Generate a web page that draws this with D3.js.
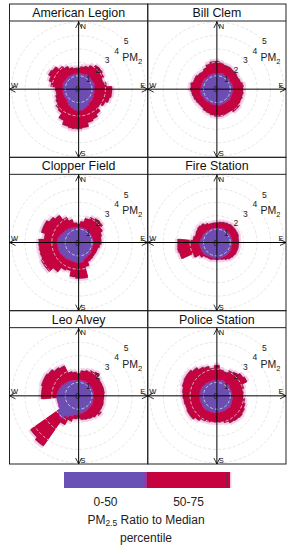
<!DOCTYPE html>
<html>
<head>
<meta charset="utf-8">
<script src="https://cdn.jsdelivr.net/npm/d3@7"></script>
<style>
  body { margin: 0; background: #fff; }
  svg { display: block; font-family: "Liberation Sans", Arial, sans-serif; }
</style>
</head>
<body>
<div id="chart"></div>
<script>
// site names, in panel order (row by row)
const sites = ["American Legion", "Bill Clem", "Clopper Field", "Fire Station", "Leo Alvey", "Police Station"];

// wind direction sectors, 10 degrees each
const directions = [0, 10, 20, 30, 40, 50, 60, 70, 80, 90, 100, 110, 120, 130, 140, 150, 160, 170,
                    180, 190, 200, 210, 220, 230, 240, 250, 260, 270, 280, 290, 300, 310, 320, 330, 340, 350];

// PM2.5 ratio to median, 50th and 75th percentile per sector
const americanLegion50 = [1.1,1.1,1.1,1.15,1.1,1.1,1.1,1.15,1.1,1.1,1.1,1.1,1.15,1.2,1.2,1.3,1.4,1.5,1.5,1.5,1.4,1.3,1.2,1.1,1.1,1.1,1.1,1.1,1.1,1.15,1.1,1.1,1.1,1.1,1.1,1.1];
const americanLegion75 = [1.6,1.7,1.8,2.0,2.2,2.2,2.1,1.9,2.1,2.5,2.5,2.4,2.2,2.0,2.3,2.5,2.6,2.9,3.0,3.0,2.9,2.6,2.2,2.1,1.9,1.8,1.7,1.75,2.1,2.3,2.5,2.4,2.1,1.9,1.7,1.6];

const billClem50 = [1.1,1.1,1.15,1.1,1.1,1.1,1.05,1.1,1.1,1.15,1.1,1.1,1.1,1.15,1.1,1.1,1.1,1.15,1.1,1.1,1.1,1.05,1.1,1.1,1.1,1.15,1.15,1.15,1.1,1.1,1.1,1.1,1.05,1.1,1.1,1.1];
const billClem75 = [2.1,2.0,1.9,1.9,1.85,1.85,1.8,1.85,2.0,2.0,2.0,2.0,2.0,2.1,2.1,1.95,2.0,2.05,2.05,2.0,1.9,1.85,1.75,1.75,1.8,1.85,1.9,2.0,2.0,1.85,1.85,1.75,1.7,1.8,2.0,2.1];

const clopperField50 = [1.05,1.05,1.05,1.05,1.05,1.0,1.0,1.0,1.0,1.0,1.0,1.0,1.0,1.1,1.1,1.15,1.2,1.4,1.45,1.4,1.4,1.4,1.45,1.45,1.5,1.5,1.5,1.5,1.5,1.4,1.3,1.25,1.2,1.15,1.1,1.05];
const clopperField75 = [1.4,1.6,1.9,2.1,2.2,2.2,2.0,1.8,1.7,1.7,1.6,1.5,1.5,1.5,1.55,1.6,1.9,2.7,2.7,2.6,2.2,2.3,2.7,3.1,3.1,3.0,3.0,3.0,2.6,2.9,2.9,2.7,2.5,2.1,1.8,1.5];

const fireStation50 = [1.0,1.0,1.05,1.05,1.05,1.05,1.05,1.05,1.05,1.05,1.05,1.05,1.1,1.1,1.1,1.1,1.1,1.1,1.1,1.1,1.1,1.1,1.15,1.2,1.2,1.2,1.2,1.2,1.15,1.1,1.1,1.05,1.05,1.0,1.0,1.0];
const fireStation75 = [1.5,1.55,1.6,1.65,1.7,1.7,1.7,1.7,1.65,1.65,1.65,1.65,1.65,1.6,1.55,1.45,1.35,1.3,1.3,1.3,1.35,1.35,1.4,1.6,2.0,2.9,3.0,2.95,1.8,1.7,1.75,1.8,1.75,1.6,1.5,1.5];

const leoAlvey50 = [1.1,1.1,1.1,1.1,1.05,1.05,1.05,1.05,1.05,1.05,1.05,1.05,1.1,1.1,1.1,1.15,1.2,1.25,1.3,1.35,1.5,1.7,2.0,1.9,1.6,1.55,1.55,1.55,1.5,1.45,1.4,1.3,1.25,1.2,1.15,1.1];
const leoAlvey75 = [1.7,1.9,2.0,2.1,2.2,2.0,1.95,1.95,1.95,1.9,1.9,1.95,1.95,2.1,2.0,1.9,1.85,1.8,1.7,1.75,2.0,2.4,4.6,4.4,1.6,1.6,1.6,2.8,2.8,2.9,2.9,2.8,2.6,2.5,1.9,1.8];

const policeStation50 = [1.1,1.1,1.15,1.1,1.1,1.1,1.05,1.05,1.05,1.05,1.1,1.1,1.15,1.2,1.15,1.15,1.15,1.15,1.15,1.2,1.2,1.2,1.25,1.25,1.2,1.2,1.2,1.2,1.2,1.2,1.2,1.15,1.15,1.1,1.1,1.1];
const policeStation75 = [2.3,2.0,1.9,2.1,2.2,2.4,2.5,2.1,2.0,2.0,2.1,2.2,2.3,2.35,2.3,2.25,2.1,2.0,2.0,2.0,2.05,2.1,2.3,2.5,2.5,2.45,2.5,2.55,2.6,2.7,2.75,2.75,2.6,2.4,2.3,2.1];

const ringTicks = [1, 2, 3, 4, 5];
const legendBins = ["0-50", "50-75"];

(function() {
  const width = 294, height = 550;
  const box = { left: 9.5, right: 286, top: 4, bottom: 464 };
  const colW = (box.right - box.left) / 2,
        rowH = (box.bottom - box.top) / 3,
        titleH = 17;

  const purple = "#6a50b4", magenta = "#a8309c", crimson = "#c6023f",
        maroon = "#8e1a4c", halo = "#f9cdea";

  const p50 = [americanLegion50, billClem50, clopperField50, fireStation50, leoAlvey50, policeStation50];
  const p75 = [americanLegion75, billClem75, clopperField75, fireStation75, leoAlvey75, policeStation75];

  const svg = d3.select("#chart")
    .append("svg")
    .attr("width", width)
    .attr("height", height);

  const r = d3.scaleLinear().domain([0, 5]).range([0, 67]);
  const rad = Math.PI / 180;

  const arc = d3.arc()
    .innerRadius(0)
    .startAngle(d => (d.dir - 5) * rad)
    .endAngle(d => (d.dir + 5) * rad)
    .outerRadius(d => d.r);

  sites.forEach((name, i) => {
    const col = i % 2, row = Math.floor(i / 2);
    const x0 = box.left + col * colW, y0 = box.top + row * rowH;

    const panel = svg.append("g")
      .attr("transform", `translate(${x0},${y0})`);

    panel.append("rect")
      .attr("width", colW)
      .attr("height", rowH)
      .attr("fill", "none")
      .attr("stroke", "#222");

    panel.append("line")
      .attr("x1", 0).attr("x2", colW)
      .attr("y1", titleH).attr("y2", titleH)
      .attr("stroke", "#222");

    panel.append("text")
      .attr("x", colW / 2)
      .attr("y", 13)
      .attr("text-anchor", "middle")
      .attr("font-size", "12.4px")
      .attr("fill", "#111")
      .text(name);

    const cx = colW / 2, cy = titleH + (rowH - titleH) / 2;
    const g = panel.append("g")
      .attr("transform", `translate(${cx},${cy})`);

    const s50 = directions.map((dir, j) => ({ dir, v: p50[i][j] }));
    const s75 = directions.map((dir, j) => ({ dir, v: p75[i][j] }));

    // pink glow round the outer band
    g.selectAll(".halo").data(s75).enter().append("path")
      .attr("d", d => arc({ dir: d.dir, r: r(d.v) + 2.5 }))
      .attr("fill", halo);

    // darker rim, then the 50-75 band over it
    g.selectAll(".rim").data(s75).enter().append("path")
      .attr("d", d => arc({ dir: d.dir, r: r(d.v) }))
      .attr("fill", maroon)
      .attr("stroke", maroon)
      .attr("stroke-width", 0.3);

    g.selectAll(".p75").data(s75).enter().append("path")
      .attr("d", d => arc({ dir: d.dir, r: r(d.v) - 1.2 }))
      .attr("fill", crimson)
      .attr("stroke", crimson)
      .attr("stroke-width", 0.4);

    g.selectAll(".edge").data(s50).enter().append("path")
      .attr("d", d => arc({ dir: d.dir, r: r(d.v) + 1.5 }))
      .attr("fill", magenta);

    g.selectAll(".p50").data(s50).enter().append("path")
      .attr("d", d => arc({ dir: d.dir, r: r(d.v) }))
      .attr("fill", purple)
      .attr("stroke", purple)
      .attr("stroke-width", 0.4);

    // dashed rings on top
    g.selectAll(".ring").data(ringTicks).enter().append("circle")
      .attr("r", d => r(d))
      .attr("fill", "none")
      .attr("stroke", "#dedede")
      .attr("stroke-width", 0.8)
      .attr("stroke-dasharray", "3,2");

    // axes across the whole panel
    g.append("line")
      .attr("x1", -cx).attr("x2", colW - cx)
      .attr("y1", 0).attr("y2", 0)
      .attr("stroke", "#000");
    g.append("line")
      .attr("x1", 0).attr("x2", 0)
      .attr("y1", titleH - cy).attr("y2", rowH - cy)
      .attr("stroke", "#000");

    const top = titleH - cy + 1, bot = rowH - cy, lft = -cx, rgt = colW - cx;
    const arrows = [
      `M-3,${top + 6}L0,${top}L3,${top + 6}`,
      `M-3,${bot - 6}L0,${bot}L3,${bot - 6}`,
      `M${rgt - 6},-3L${rgt},0L${rgt - 6},3`,
      `M${lft + 6},-3L${lft},0L${lft + 6},3`
    ];
    g.selectAll(".arrow").data(arrows).enter().append("path")
      .attr("d", d => d)
      .attr("fill", "none")
      .attr("stroke", "#000")
      .attr("stroke-width", 0.8);

    const compass = [
      { t: "N", x: 4.5, y: top + 6.5 },
      { t: "S", x: 4.5, y: bot - 1 },
      { t: "E", x: rgt - 5, y: -1.5 },
      { t: "W", x: lft + 5, y: -1.5 }
    ];
    g.selectAll(".compass").data(compass).enter().append("text")
      .attr("x", d => d.x)
      .attr("y", d => d.y)
      .attr("text-anchor", "middle")
      .attr("font-size", "7.5px")
      .attr("fill", "#111")
      .text(d => d.t);

    g.append("text")
      .attr("x", -1)
      .attr("y", 3)
      .attr("text-anchor", "middle")
      .attr("font-size", "8.5px")
      .attr("fill", "#222")
      .text("0");

    g.selectAll(".tick").data(ringTicks).enter().append("text")
      .attr("x", d => r(d) * Math.SQRT1_2)
      .attr("y", d => -r(d) * Math.SQRT1_2 - 0.5)
      .attr("dy", "0.35em")
      .attr("text-anchor", "middle")
      .attr("font-size", "8.5px")
      .attr("fill", "#222")
      .text(d => d);

    // the pollutant label gets cut off by the plot edge
    const clipId = "clip" + i;
    panel.append("clipPath")
      .attr("id", clipId)
      .append("rect")
      .attr("x", 0).attr("y", titleH)
      .attr("width", cx + 63.5)
      .attr("height", rowH - titleH);

    const pm = panel.append("text")
      .attr("clip-path", `url(#${clipId})`)
      .attr("x", cx + 43.5)
      .attr("y", cy - 28)
      .attr("font-size", "10.5px")
      .attr("fill", "#222");
    pm.append("tspan").text("PM");
    pm.append("tspan")
      .attr("dy", 3)
      .attr("font-size", "8px")
      .text("2.5");
  });

  // colour key
  const lx = d3.scaleBand().domain(legendBins).range([64, 230]);
  const key = svg.append("g").attr("transform", "translate(0,472)");

  key.selectAll(".bin").data(legendBins).enter().append("rect")
    .attr("x", d => lx(d))
    .attr("y", 0)
    .attr("width", lx.bandwidth())
    .attr("height", 16)
    .attr("fill", (d, i) => i === 0 ? purple : crimson);

  key.append("rect")
    .attr("x", lx("50-75") - 2.5).attr("y", 0)
    .attr("width", 2.5).attr("height", 16)
    .attr("fill", magenta);
  key.append("rect")
    .attr("x", lx("50-75")).attr("y", 0)
    .attr("width", 1.5).attr("height", 16)
    .attr("fill", maroon);
  key.append("rect")
    .attr("x", 226).attr("y", 0)
    .attr("width", 2).attr("height", 16)
    .attr("fill", maroon);
  key.append("rect")
    .attr("x", 230).attr("y", 0)
    .attr("width", 1.5).attr("height", 16)
    .attr("fill", halo);

  svg.selectAll(".binlabel").data(legendBins).enter().append("text")
    .attr("x", d => lx(d) + lx.bandwidth() / 2)
    .attr("y", 506)
    .attr("text-anchor", "middle")
    .attr("font-size", "12px")
    .attr("fill", "#222")
    .text(d => d);

  const title = svg.append("text")
    .attr("x", 146)
    .attr("y", 523.5)
    .attr("text-anchor", "middle")
    .attr("font-size", "12px")
    .attr("fill", "#222");
  title.append("tspan").text("PM");
  title.append("tspan").attr("font-size", "8.5px").attr("dy", 2).text("2.5");
  title.append("tspan").attr("dy", -2).text(" Ratio to Median");

  svg.append("text")
    .attr("x", 146)
    .attr("y", 542)
    .attr("text-anchor", "middle")
    .attr("font-size", "12px")
    .attr("fill", "#222")
    .text("percentile");
})();
</script>
</body>
</html>
